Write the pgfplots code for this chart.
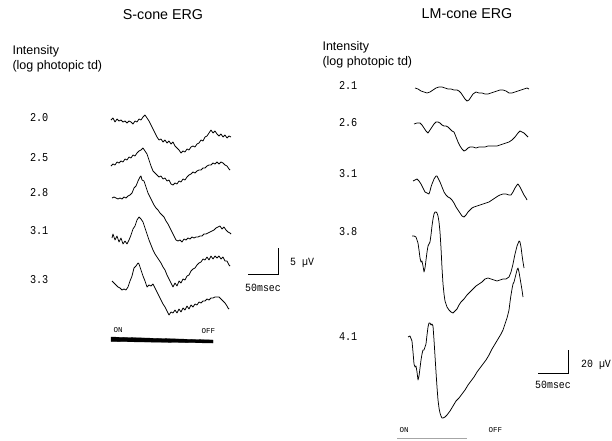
\documentclass[border=0pt]{standalone}
\usepackage{fontspec}
\setmainfont{Liberation Sans}
\newfontfamily\monofont{Liberation Mono}
\usepackage{pgfplots}
\pgfplotsset{compat=1.18}
\begin{document}
\begin{tikzpicture}[
  ttl/.style={font=\fontsize{14.3}{16}\selectfont},
  itl/.style={font=\fontsize{12.5}{14}\selectfont, anchor=west},
  lbl/.style={font=\monofont\fontsize{12}{12}\selectfont, xscale=0.85, anchor=west},
  sml/.style={font=\monofont\fontsize{11}{11}\selectfont, xscale=0.9, anchor=west},
  onoff/.style={font=\monofont\fontsize{7.5}{8}\selectfont, anchor=west}]
\begin{axis}[name=ax, x=1pt, y=1pt, scale only axis,
  xmin=0, xmax=612, ymin=0, ymax=440, y dir=reverse,
  hide axis, clip=false,
  trace/.style={black, line width=0.75pt, no marks, line join=round}]

% ---------------- S-cone ERG ----------------
% 2.0
\addplot[trace] coordinates {(111,120)(113,118)(115,122)(117,119)(119,121)(121,120)(123,122)(125,121)(127,123)(129,121)(131,122)(133,124)(135,121)(137,122)(139,119)(141,120)(143,117)(145,115)(147,118)(149,121)(151,125)(153,129)(155,133)(157,137)(159,140)(161,139)(163,142)(165,140)(167,143)(169,141)(171,144)(173,142)(175,146)(177,148)(179,150)(181,153)(183,151)(185,152)(187,149)(189,150)(191,147)(193,146)(195,147)(197,144)(199,143)(201,140)(203,141)(205,137)(207,136)(209,133)(211,130)(213,133)(215,131)(217,134)(219,136)(221,134)(223,137)(225,135)(227,138)(229,136)(231,137)};
% 2.5
\addplot[trace] coordinates {(111,166)(113,164)(115,165)(117,162)(119,163)(121,161)(123,162)(125,159)(127,160)(129,157)(131,158)(133,155)(135,156)(137,153)(139,151)(141,150)(143,148)(145,151)(147,154)(149,160)(151,166)(153,171)(155,173)(157,175)(159,177)(161,176)(163,179)(165,178)(167,181)(169,180)(171,184)(173,185)(175,183)(177,184)(179,181)(181,182)(183,179)(185,180)(187,177)(189,175)(191,174)(193,172)(195,173)(197,171)(199,170)(201,170)(203,168)(205,168)(207,166)(209,165)(211,165)(213,163)(215,164)(217,162)(219,164)(221,162)(223,163)(225,165)(227,166)(229,169)(230,170)};
% 2.8
\addplot[trace] coordinates {(112,198)(114,197)(116,198)(118,199)(120,198)(122,199)(124,197)(126,198)(128,196)(130,195)(132,193)(134,188)(136,186)(138,181)(140,177)(141,176)(142,180)(144,181)(146,187)(148,193)(150,197)(152,201)(154,205)(156,208)(158,210)(160,213)(162,215)(164,217)(166,221)(168,224)(170,228)(172,232)(174,236)(176,240)(178,241)(180,240)(182,242)(184,239)(186,240)(188,238)(190,239)(192,237)(194,238)(196,237)(198,237)(200,236)(202,236)(204,234)(206,234)(208,233)(210,232)(212,231)(214,230)(216,228)(218,227)(220,226)(222,229)(224,227)(226,230)(228,232)(230,233)(231,234)};
% 3.1
\addplot[trace] coordinates {(112,238)(113,234)(115,240)(117,236)(119,242)(121,238)(123,244)(125,241)(127,244)(129,240)(131,235)(133,229)(135,226)(137,220)(139,217)(141,219)(143,222)(145,228)(147,234)(149,240)(151,245)(153,250)(155,254)(157,257)(159,260)(161,263)(163,267)(165,270)(167,275)(169,279)(171,283)(173,287)(175,283)(177,286)(179,281)(181,283)(183,279)(185,280)(187,276)(189,275)(191,271)(193,269)(195,268)(197,265)(199,263)(201,262)(203,259)(205,260)(207,257)(209,260)(211,256)(213,259)(215,256)(217,258)(219,256)(221,259)(223,257)(225,261)(227,261)(229,265)(230,266)};
% 3.3
\addplot[trace] coordinates {(112,281)(114,283)(116,285)(118,287)(120,288)(122,290)(124,289)(126,290)(128,287)(130,281)(132,276)(134,268)(136,266)(138,263)(139,264)(141,270)(143,276)(145,281)(147,287)(149,285)(151,286)(153,284)(155,288)(157,292)(159,296)(161,300)(163,304)(165,307)(167,311)(169,315)(171,312)(173,313)(175,310)(177,313)(179,309)(181,312)(183,308)(185,310)(187,306)(189,309)(191,305)(193,307)(195,304)(197,305)(199,302)(201,303)(203,301)(205,301)(207,299)(209,300)(211,298)(213,298)(215,297)(217,297)(219,297)(221,299)(223,301)(225,303)(227,306)(228,308)(229,309)};
% stimulus bar
\addplot[fill=black, draw=black, line width=0.3pt] coordinates {(111,337)(213,340)(213,343)(111,341.5)} -- cycle;
% scale bar
\addplot[black, line width=0.7pt] coordinates {(248,274)(278,274)(278,248)};

\node[ttl] at (axis cs:163,15) {S-cone ERG};
\node[itl] at (axis cs:9,51) {Intensity};
\node[itl] at (axis cs:9,66) {(log photopic td)};
\node[lbl] at (axis cs:27,118) {2.0};
\node[lbl] at (axis cs:27,158) {2.5};
\node[lbl] at (axis cs:27,193) {2.8};
\node[lbl] at (axis cs:27,231) {3.1};
\node[lbl] at (axis cs:27,280) {3.3};
\node[sml] at (axis cs:287,263) {5 µV};
\node[sml] at (axis cs:242,288) {50msec};
\node[onoff] at (axis cs:110,330) {ON};
\node[onoff] at (axis cs:198,331) {OFF};

% ---------------- LM-cone ERG ----------------
% 2.1
\addplot[trace] coordinates {(415,88)(418,89)(421,91)(424,92)(427,93)(430,92)(433,90)(436,88)(439,87)(442,87)(445,88)(448,89)(451,89)(454,90)(457,90)(459,91)(461,93)(463,96)(465,99)(467,101)(469,100)(471,97)(473,94)(476,92)(479,93)(482,93)(485,94)(488,94)(491,93)(494,92)(497,91)(500,90)(503,90)(506,91)(509,93)(512,93)(515,92)(518,91)(521,90)(524,89)(527,88)(529,89)};
% 2.6
\addplot[trace] coordinates {(414,124)(417,123)(420,123)(422,125)(424,128)(426,131)(428,133)(430,130)(432,127)(434,124)(436,122)(438,122)(440,123)(442,125)(444,126)(446,126)(448,127)(450,129)(452,131)(454,132)(456,137)(458,142)(460,146)(462,149)(464,151)(466,150)(468,148)(470,147)(473,147)(476,148)(479,147)(482,147)(485,147)(488,146)(491,146)(494,146)(497,146)(500,145)(503,144)(506,143)(509,142)(512,140)(515,137)(518,133)(520,131)(522,132)(524,133)(526,135)(528,137)};
% 3.1
\addplot[trace] coordinates {(413,181)(415,180)(417,179)(419,181)(421,184)(423,188)(425,192)(427,193)(429,194)(430,191)(431,187)(432,184)(434,179)(436,176)(437,176)(438,178)(440,182)(442,187)(444,192)(446,195)(448,197)(450,198)(452,200)(454,203)(456,207)(458,210)(460,213)(462,216)(464,217)(466,215)(468,212)(470,210)(472,208)(474,207)(477,206)(480,205)(483,204)(486,203)(489,202)(492,200)(495,198)(498,196)(500,195)(503,194)(506,194)(509,195)(511,195)(513,192)(515,188)(517,185)(518,184)(520,187)(522,191)(524,195)(526,198)(527,200)};
% 3.8
\addplot[trace] coordinates {(412,236)(414,236)(416,237)(418,243)(419,250)(420,258)(421,262)(422,261)(423,266)(424,272)(425,268)(426,260)(427,252)(428,246)(429,244)(430,242)(431,235)(432,226)(433,219)(434,214)(435,212)(436,212)(437,213)(438,216)(439,222)(440,232)(441,248)(442,268)(443,284)(444,294)(445,301)(447,307)(449,310)(451,312)(453,313)(455,311)(457,309)(459,305)(461,302)(464,299)(467,295)(470,292)(473,289)(476,286)(479,284)(482,282)(485,279)(488,278)(491,279)(494,280)(497,281)(500,280)(503,279)(506,279)(509,277)(511,272)(513,264)(515,254)(517,246)(519,241)(520,242)(521,247)(522,255)(523,262)(524,268)};
% 4.1
\addplot[trace] coordinates {(408,337)(410,336)(412,341)(413,352)(414,364)(415,367)(416,366)(417,372)(418,380)(419,376)(420,368)(421,360)(422,354)(423,350)(424,350)(425,347)(426,344)(427,335)(428,327)(429,323)(430,323)(431,325)(432,324)(433,326)(434,340)(435,356)(436,372)(437,387)(438,400)(439,408)(440,413)(441,416)(442,418)(443,418)(445,417)(447,415)(450,411)(453,406)(456,401)(459,398)(462,394)(465,390)(468,385)(471,381)(474,377)(477,372)(480,368)(483,364)(486,360)(489,355)(492,349)(495,344)(498,339)(501,334)(503,330)(505,324)(507,318)(509,310)(510,302)(511,295)(512,289)(513,284)(514,282)(515,278)(516,274)(517,270)(518,268)(519,272)(520,278)(521,284)(522,290)(523,297)};
% stimulus bar (faint)
\addplot[black!35, line width=1.5pt] coordinates {(397,438.5)(467,438.5)};
% scale bar
\addplot[black, line width=0.7pt] coordinates {(538,373)(568,373)(568,350)};

\node[ttl] at (axis cs:467,14) {LM-cone ERG};
\node[itl] at (axis cs:319,47) {Intensity};
\node[itl] at (axis cs:319,62) {(log photopic td)};
\node[lbl] at (axis cs:336,85) {2.1};
\node[lbl] at (axis cs:336,123) {2.6};
\node[lbl] at (axis cs:336,174) {3.1};
\node[lbl] at (axis cs:336,232) {3.8};
\node[lbl] at (axis cs:336,337) {4.1};
\node[sml] at (axis cs:578,365) {20 µV};
\node[sml] at (axis cs:532,385) {50msec};
\node[onoff] at (axis cs:396,430) {ON};
\node[onoff] at (axis cs:485,430) {OFF};
\end{axis}
\pgfresetboundingbox
\path (ax.south west) rectangle (ax.north east);
\end{tikzpicture}
\end{document}
